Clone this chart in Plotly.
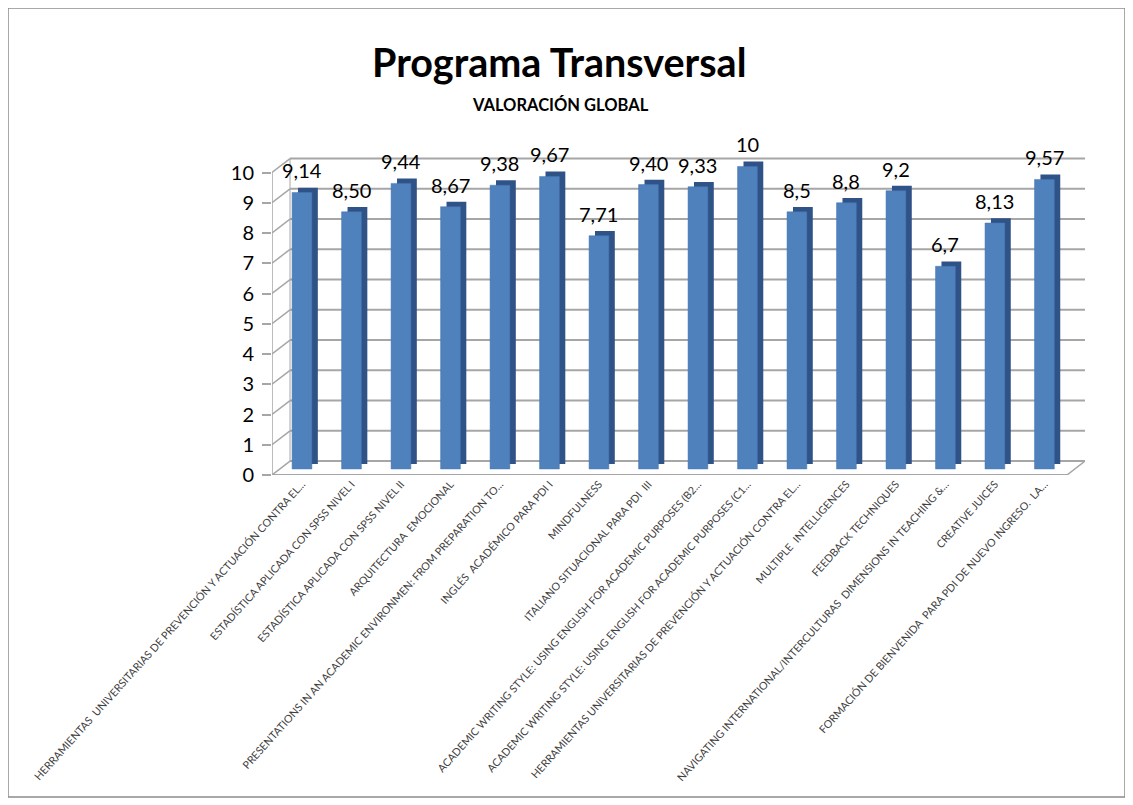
import plotly.graph_objects as go

categories = [
    "HERRAMIENTAS  UNIVERSITARIAS DE PREVENCIÓN Y ACTUACIÓN CONTRA EL...",
    "ESTADÍSTICA APLICADA CON SPSS NIVEL I",
    "ESTADÍSTICA APLICADA CON SPSS NIVEL II",
    "ARQUITECTURA  EMOCIONAL",
    "PRESENTATIONS IN AN ACADEMIC ENVIRONMEN: FROM PREPARATION TO...",
    "INGLÉS  ACADÉMICO PARA PDI I",
    "MINDFULNESS",
    "ITALIANO SITUACIONAL PARA PDI  III",
    "ACADEMIC WRITING STYLE: USING ENGLISH FOR ACADEMIC PURPOSES (B2...",
    "ACADEMIC WRITING STYLE: USING ENGLISH FOR ACADEMIC PURPOSES (C1...",
    "HERRAMIENTAS UNIVERSITARIAS DE PREVENCIÓN Y ACTUACIÓN CONTRA EL...",
    "MULTIPLE  INTELLIGENCES",
    "FEEDBACK TECHNIQUES",
    "NAVIGATING INTERNATIONAL/INTERCULTURAS  DIMENSIONS IN TEACHING &...",
    "CREATIVE JUICES",
    "FORMACIÓN DE BIENVENIDA  PARA PDI DE NUEVO INGRESO.  LA...",
]
values = [9.14, 8.50, 9.44, 8.67, 9.38, 9.67, 7.71, 9.40, 9.33, 10, 8.5, 8.8, 9.2, 6.7, 8.13, 9.57]
value_labels = ["9,14", "8,50", "9,44", "8,67", "9,38", "9,67", "7,71", "9,40", "9,33",
                "10", "8,5", "8,8", "9,2", "6,7", "8,13", "9,57"]
y_ticks = list(range(0, 11))

positions = list(range(len(categories)))
FONT = "Lato, Open Sans, sans-serif"

# pseudo-3D geometry (in axis units)
BAR_BASE = 0.2        # bars stand slightly behind the front floor edge
DEPTH_X = 0.12        # side face offset
DEPTH_Y = 0.16        # top face offset
WALL_DX = 0.364       # back wall offset (x units)
WALL_DY = 0.46        # back wall offset (y units)
X_MIN, X_MAX = -0.606, 15.82
FLOOR_FRONT_RIGHT = X_MAX - WALL_DX
GRID = "#A6A6A6"

fig = go.Figure()
fig.add_trace(go.Bar(
    x=[p + DEPTH_X for p in positions],
    y=values,
    base=BAR_BASE + DEPTH_Y,
    width=0.40,
    marker=dict(color="#2F5287", line=dict(width=0)),
    hoverinfo="skip",
))
fig.add_trace(go.Bar(
    x=positions,
    y=values,
    base=BAR_BASE,
    width=0.40,
    marker=dict(color="#4F81BD", line=dict(color="#4677B3", width=0.5)),
    hoverinfo="skip",
))

annotations = [
    dict(x=p, y=v + BAR_BASE, text=t, xref="x", yref="y", showarrow=False,
         xanchor="center", yanchor="bottom", yshift=8,
         font=dict(family=FONT, size=20, color="black"))
    for p, v, t in zip(positions, values, value_labels)
]

shapes = []
# back wall gridlines
for v in y_ticks:
    shapes.append(dict(type="line", xref="x", yref="y",
                       x0=X_MIN + WALL_DX, x1=X_MAX, y0=v + WALL_DY, y1=v + WALL_DY,
                       line=dict(color=GRID, width=2), layer="below"))
    # left wall diagonals
    shapes.append(dict(type="line", xref="x", yref="y",
                       x0=X_MIN, x1=X_MIN + WALL_DX, y0=v, y1=v + WALL_DY,
                       line=dict(color=GRID, width=1.5), layer="below"))
# front vertical axis line and back wall edge
shapes.append(dict(type="line", xref="x", yref="y", x0=X_MIN, x1=X_MIN,
                   y0=y_ticks[0], y1=y_ticks[-1], line=dict(color=GRID, width=1.5), layer="below"))
shapes.append(dict(type="line", xref="x", yref="y", x0=X_MIN + WALL_DX, x1=X_MIN + WALL_DX,
                   y0=y_ticks[0] + WALL_DY, y1=y_ticks[-1] + WALL_DY,
                   line=dict(color=GRID, width=1), layer="below"))
# floor front edge and right diagonal
shapes.append(dict(type="line", xref="x", yref="y", x0=X_MIN, x1=FLOOR_FRONT_RIGHT,
                   y0=0, y1=0, line=dict(color=GRID, width=2), layer="below"))
shapes.append(dict(type="line", xref="x", yref="y", x0=FLOOR_FRONT_RIGHT, x1=X_MAX,
                   y0=0, y1=WALL_DY, line=dict(color=GRID, width=1.5), layer="below"))

W, H = 1133, 805
ml, mt = 264, 142
plot_right, plot_bottom = 1077, 467
mr, mb = W - plot_right, H - plot_bottom
pw, ph = W - ml - mr, H - mt - mb
unit_px = 30.25
y_top = ph / unit_px


def px(x):
    return (x - ml) / pw


def py(y):
    return (H - mb - y) / ph


shapes.append(dict(type="rect", xref="paper", yref="paper",
                   x0=px(0), x1=px(1117), y0=py(789), y1=py(0),
                   line=dict(color="#8C8C8C", width=1.5), fillcolor="rgba(0,0,0,0)", layer="below"))

annotations += [
    dict(text="<b>Programa Transversal</b>", x=px(551), y=py(54),
         xref="paper", yref="paper", showarrow=False, xanchor="center", yanchor="middle",
         font=dict(size=39.5, color="black", family=FONT)),
    dict(text="<b>VALORACIÓN GLOBAL</b>", x=px(552), y=py(97),
         xref="paper", yref="paper", showarrow=False, xanchor="center", yanchor="middle",
         font=dict(size=16.5, color="black", family=FONT)),
]

fig.update_layout(
    width=W, height=H,
    margin=dict(l=ml, r=mr, t=mt, b=mb, autoexpand=False),
    paper_bgcolor="white",
    plot_bgcolor="white",
    showlegend=False,
    barmode="overlay",
    font=dict(family=FONT),
    xaxis=dict(
        range=[X_MIN, X_MAX],
        tickmode="array",
        tickvals=positions,
        ticktext=categories,
        tickangle=-48,
        tickfont=dict(size=10.7, color="#404040", family=FONT),
        showgrid=False,
        showline=False,
        ticks="",
        zeroline=False,
        automargin=False,
    ),
    yaxis=dict(
        range=[0, y_top],
        tickmode="array",
        tickvals=y_ticks,
        tickfont=dict(size=20, color="black", family=FONT),
        showgrid=False,
        showline=False,
        ticks="outside",
        ticklen=9,
        tickwidth=1.5,
        tickcolor=GRID,
        ticklabelstandoff=4,
        zeroline=False,
        automargin=False,
    ),
    annotations=annotations,
    shapes=shapes,
)

fig.write_html("out.html")
